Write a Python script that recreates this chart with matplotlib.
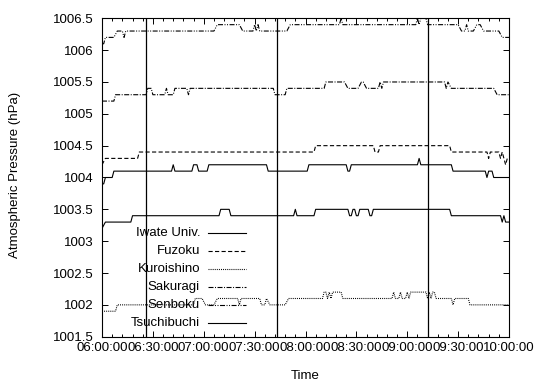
import numpy as np
import matplotlib
matplotlib.use('Agg')
import matplotlib.pyplot as plt
import matplotlib.dates as mdates
from matplotlib.ticker import FuncFormatter, MultipleLocator

plt.rcParams['font.family'] = ['Liberation Sans', 'DejaVu Sans']
plt.rcParams['font.size'] = 9.5
plt.rcParams['lines.scale_dashes'] = False

# ---- data (minutes after 06:00, pressure in hPa) ----
iwate_t = [0, 1, 2, 6, 7, 41, 42, 43, 53, 54, 56, 57, 62, 63, 97, 98, 121, 122, 144, 145, 146, 147,
           186, 187, 188, 206, 207, 226, 227, 228, 230, 231, 240]
iwate_v = [1003.9, 1003.9, 1004.0, 1004.0, 1004.1, 1004.1, 1004.2, 1004.1, 1004.1, 1004.2, 1004.2, 1004.1,
           1004.1, 1004.2, 1004.2, 1004.1, 1004.1, 1004.2, 1004.2, 1004.1, 1004.1, 1004.2, 1004.2, 1004.3,
           1004.2, 1004.2, 1004.1, 1004.1, 1004.0, 1004.1, 1004.1, 1004.0, 1004.0]

fuzoku_t = [0, 2, 21, 22, 125, 126, 160, 161, 163, 164, 205, 206, 227, 228, 229, 234, 235, 236, 237, 238, 239, 240]
fuzoku_v = [1004.2, 1004.3, 1004.3, 1004.4, 1004.4, 1004.5, 1004.5, 1004.4, 1004.4, 1004.5, 1004.5, 1004.4,
            1004.4, 1004.3, 1004.4, 1004.4, 1004.3, 1004.4, 1004.3, 1004.2, 1004.3, 1004.3]

kuroishino_t = [0, 8, 9, 54, 55, 59, 61, 66, 68, 80, 81, 82, 93, 94, 96, 97, 99, 108, 110, 130, 131, 132, 133,
                134, 135, 136, 141, 142, 171, 172, 173, 175, 176, 177, 179, 180, 181, 182, 191, 192, 193, 194,
                195, 196, 197, 206, 207, 208, 216, 217, 240]
kuroishino_v = [1001.9, 1001.9, 1002.0, 1002.0, 1002.1, 1002.1, 1002.0, 1002.0, 1002.1, 1002.1, 1002.0, 1002.1,
                1002.1, 1002.0, 1002.0, 1002.1, 1002.0, 1002.0, 1002.1, 1002.1, 1002.2, 1002.2, 1002.1, 1002.2,
                1002.1, 1002.2, 1002.2, 1002.1, 1002.1, 1002.2, 1002.1, 1002.1, 1002.2, 1002.1, 1002.1, 1002.2,
                1002.1, 1002.2, 1002.2, 1002.1, 1002.2, 1002.1, 1002.2, 1002.2, 1002.1, 1002.1, 1002.0, 1002.1,
                1002.1, 1002.0, 1002.0]

sakuragi_t = [0, 7, 8, 26, 27, 29, 30, 37, 38, 39, 42, 43, 50, 51, 52, 101, 102, 108, 109, 131, 132, 143, 145,
              151, 153, 154, 156, 163, 164, 165, 166, 202, 203, 204, 206, 231, 233, 240]
sakuragi_v = [1005.2, 1005.2, 1005.3, 1005.3, 1005.4, 1005.4, 1005.3, 1005.3, 1005.4, 1005.3, 1005.3, 1005.4,
              1005.4, 1005.3, 1005.4, 1005.4, 1005.3, 1005.3, 1005.4, 1005.4, 1005.5, 1005.5, 1005.4, 1005.4,
              1005.5, 1005.5, 1005.4, 1005.4, 1005.5, 1005.4, 1005.5, 1005.5, 1005.4, 1005.5, 1005.4, 1005.4,
              1005.3, 1005.3]

senboku_t = [0, 1, 2, 7, 9, 12, 13, 14, 66, 68, 81, 83, 89, 90, 91, 92, 93, 109, 111, 140, 141, 142,
             185, 186, 187, 188, 191, 192, 210, 212, 214, 215, 216, 219, 221, 223, 225, 234, 236, 240]
senboku_v = [1006.1, 1006.1, 1006.2, 1006.2, 1006.3, 1006.3, 1006.2, 1006.3, 1006.3, 1006.4, 1006.4, 1006.3,
             1006.3, 1006.4, 1006.3, 1006.4, 1006.3, 1006.3, 1006.4, 1006.4, 1006.5, 1006.4, 1006.4, 1006.5,
             1006.4, 1006.5, 1006.5, 1006.4, 1006.4, 1006.3, 1006.3, 1006.4, 1006.3, 1006.3, 1006.4, 1006.4,
             1006.3, 1006.3, 1006.2, 1006.2]

tsuchibuchi_t = [0, 2, 17, 18, 69, 70, 75, 76, 113, 114, 115, 125, 126, 145, 146, 147, 148, 149, 150, 151, 152,
                 157, 158, 159, 160, 205, 206, 235, 236, 237, 238, 240]
tsuchibuchi_v = [1003.2, 1003.3, 1003.3, 1003.4, 1003.4, 1003.5, 1003.5, 1003.4, 1003.4, 1003.5, 1003.4, 1003.4,
                 1003.5, 1003.5, 1003.4, 1003.4, 1003.5, 1003.5, 1003.4, 1003.4, 1003.5, 1003.5, 1003.4, 1003.4,
                 1003.5, 1003.5, 1003.4, 1003.4, 1003.3, 1003.4, 1003.3, 1003.3]

station_names = ['Iwate Univ.', 'Fuzoku', 'Kuroishino', 'Sakuragi', 'Senboku', 'Tsuchibuchi']
event_minutes = [26, 103, 192]
y_ticks = [1001.5, 1002, 1002.5, 1003, 1003.5, 1004, 1004.5, 1005, 1005.5, 1006, 1006.5]

start = np.datetime64('2011-01-01T06:00')


def to_time(mins):
    return start + np.asarray(mins) * np.timedelta64(1, 'm')


series = [(iwate_t, iwate_v), (fuzoku_t, fuzoku_v), (kuroishino_t, kuroishino_v),
          (sakuragi_t, sakuragi_v), (senboku_t, senboku_v), (tsuchibuchi_t, tsuchibuchi_v)]
styles = ['-', (0, (3.0, 1.7)), (0, (0.7, 0.8)), (0, (3.6, 1.1, 0.7, 1.1)),
          (0, (3.6, 1.1, 0.7, 1.1, 0.7, 1.1)), '-']

fig = plt.figure(figsize=(5.35, 3.85), dpi=100)
ax = fig.add_axes([102 / 535, 1 - 336.7 / 385, 407 / 535, 318.4 / 385])

for (t, v), ls in zip(series, styles):
    ax.plot(to_time(t), v, color='black', lw=0.8, ls=ls)

for m in event_minutes:
    ax.axvline(to_time(m), color='black', lw=0.9)

ax.set_xlim(to_time(0), to_time(240))
ax.set_ylim(y_ticks[0], y_ticks[-1])
ax.set_yticks(y_ticks)
ax.yaxis.set_major_formatter(FuncFormatter(lambda v, p: f'{v:g}'))
ax.xaxis.set_major_locator(mdates.MinuteLocator(byminute=[0, 30]))
ax.xaxis.set_minor_locator(mdates.MinuteLocator(byminute=range(0, 60, 6)))
ax.xaxis.set_major_formatter(mdates.DateFormatter('%H:%M:%S'))
ax.tick_params(which='both', direction='in', top=True, right=True, width=0.7)
ax.tick_params(which='major', length=4, pad=4)
ax.tick_params(axis='y', which='major', pad=6)
ax.tick_params(which='minor', length=2)
for s in ax.spines.values():
    s.set_linewidth(0.8)

# legend (text right-aligned, sample to the right)
for i, (name, ls) in enumerate(zip(station_names, styles)):
    yy = (336.7 - (233.3 + 17.9 * i)) / 318.4
    ax.text((200 - 102) / 407, yy, name, ha='right', va='center', transform=ax.transAxes)
    ax.plot([(208 - 102) / 407, (246 - 102) / 407], [yy, yy], color='black', lw=0.8, ls=ls,
            transform=ax.transAxes)

fig.text(15 / 535, 1 - 175 / 385, 'Atmospheric Pressure (hPa)', rotation=90, ha='center', va='center')
fig.text(305 / 535, 1 - 376 / 385, 'Time', ha='center', va='center')

fig.savefig('out.png', dpi=100)
